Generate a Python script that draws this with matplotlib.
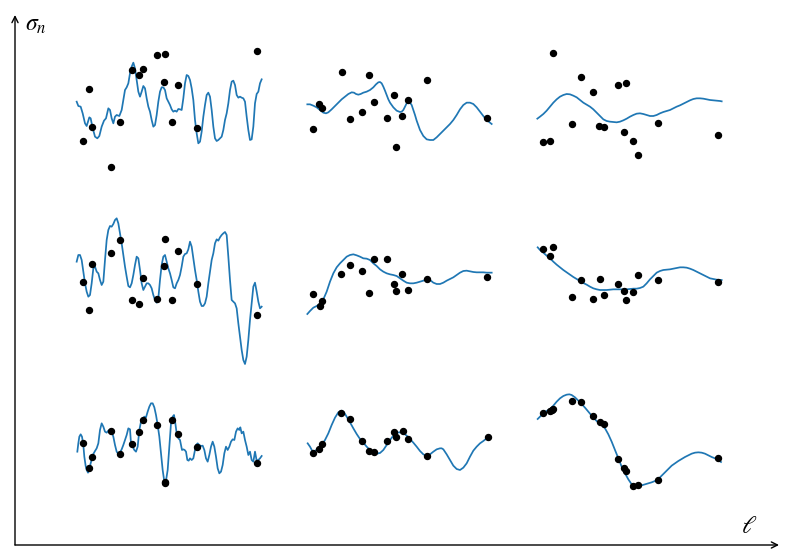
import numpy as np
import matplotlib.pyplot as plt

plt.rcParams['mathtext.fontset'] = 'stix'

# each panel: readings on the panel's own (pixel-like) scale, y grows downward
# line points as (x, y) pairs, observed points as (x, y) pairs
tl_line = [(50,215),(55,228),(62,230),(68,250),(75,280),(80,288),(88,262),(92,265),(97,290),(105,320),
           (112,325),(118,318),(125,290),(132,272),(138,265),(145,235),(150,240),(155,265),(160,280),(165,260),
           (170,255),(178,258),(185,240),(190,210),(195,180),(200,172),(205,160),(210,130),(215,110),(220,98),
           (225,115),(230,150),(235,185),(240,200),(245,185),(250,168),(255,175),(260,205),(265,230),(270,245),
           (275,270),(280,290),(285,285),(290,255),(295,215),(300,185),(305,172),(310,172),(315,180),(320,205),
           (325,215),(330,225),(335,238),(340,245),(345,242),(350,245),(355,237),(360,238),(365,240),(370,205),
           (375,160),(380,135),(385,138),(390,150),(395,175),(400,210),(405,270),(410,310),(415,340),(420,335),
           (425,305),(430,260),(435,225),(440,195),(445,188),(450,200),(455,240),(460,290),(465,325),(470,333),
           (475,330),(480,325),(485,320),(490,300),(495,270),(500,250),(505,220),(510,180),(515,155),(520,152),
           (525,165),(530,195),(535,203),(540,200),(545,203),(550,205),(555,215),(560,260),(565,300),(570,330),
           (575,328),(580,290),(585,220),(590,192),(595,185),(600,160),(605,148)]
tl_dots = [(68,333),(88,177),(97,292),(153,411),(181,276),(216,119),(236,134),(250,118),(292,74),(316,72),
           (312,155),(353,165),(337,276),(411,293),(592,63)]

tm_line = [(52,163),(60,163),(70,167),(80,172),(90,180),(100,188),(108,190),(115,187),(125,178),(135,168),
           (145,158),(155,148),(165,140),(175,132),(185,127),(192,128),(198,132),(205,134),(212,132),(220,128),
           (230,125),(240,120),(250,112),(258,103),(265,97),(270,96),(275,100),(280,110),(285,122),(290,135),
           (295,148),(300,158),(310,172),(320,182),(330,186),(335,185),(340,180),(345,170),(350,160),(355,155),
           (360,158),(365,165),(370,180),(375,195),(380,212),(390,240),(400,258),(410,268),(420,270),(430,270),
           (440,262),(450,252),(460,242),(470,232),(480,222),(490,210),(500,195),(510,178),(520,165),(530,158),
           (540,158),(550,162),(560,172),(570,185),(580,198),(590,210),(600,218),(605,222)]
tm_dots = [(68,237),(88,163),(97,174),(155,66),(181,208),(216,186),(238,75),(251,155),(292,205),(313,136),
           (317,291),(337,199),(353,151),(411,90),(592,205)]

tr_line = [(52,236),(60,230),(70,222),(80,212),(90,200),(100,188),(110,178),(120,170),(130,165),(140,162),
           (150,163),(160,167),(170,172),(180,180),(190,188),(200,194),(210,200),(220,208),(230,218),(240,228),
           (250,238),(260,243),(270,245),(280,246),(290,247),(300,245),(310,241),(320,236),(330,230),(340,225),
           (350,221),(360,220),(370,222),(380,225),(390,228),(400,228),(410,225),(420,220),(430,216),(440,213),
           (450,210),(460,205),(470,200),(480,196),(490,191),(500,186),(510,181),(520,177),(530,175),(540,175),
           (550,176),(560,178),(570,180),(580,181),(590,182),(600,183),(605,184)]
tr_dots = [(69,306),(90,302),(98,38),(155,253),(182,110),(218,157),(238,259),(251,260),(294,134),(313,275),
           (319,129),(339,303),(355,345),(413,249),(594,286)]

ml_line = [(50,185),(55,165),(60,165),(65,180),(70,215),(75,250),(80,275),(85,290),(90,285),(95,250),
           (100,205),(105,200),(110,215),(115,220),(120,240),(125,255),(130,245),(135,180),(140,120),(145,90),
           (150,78),(155,80),(160,72),(165,60),(170,55),(175,70),(180,100),(185,130),(190,165),(195,200),
           (200,230),(205,258),(210,262),(215,250),(220,225),(225,195),(230,170),(235,175),(240,210),(245,250),
           (250,270),(255,260),(260,250),(265,250),(270,255),(275,265),(280,285),(285,300),(290,308),(295,295),
           (300,240),(305,195),(310,170),(315,165),(320,185),(325,205),(330,220),(335,240),(340,262),(345,265),
           (350,250),(355,240),(360,225),(365,200),(370,170),(375,162),(380,160),(385,148),(390,125),(395,140),
           (400,175),(405,210),(410,240),(415,275),(420,305),(425,318),(430,318),(435,310),(440,290),(445,250),
           (450,215),(455,180),(460,160),(465,130),(470,118),(475,122),(480,112),(485,105),(490,100),(495,96),
           (500,105),(505,170),(510,240),(515,300),(520,305),(525,310),(530,325),(535,370),(540,410),(545,450),
           (550,480),(555,492),(560,470),(565,420),(570,360),(575,310),(580,260),(585,248),(590,275),(595,305),
           (600,325),(605,320)]
ml_dots = [(68,246),(88,331),(97,192),(153,159),(181,120),(216,300),(237,312),(250,233),(292,298),(316,117),
           (312,197),(353,154),(337,301),(411,252),(592,346)]

mm_line = [(52,252),(60,243),(70,233),(80,228),(90,222),(100,208),(110,185),(120,155),(130,130),(140,112),
           (150,100),(160,90),(170,80),(180,75),(190,73),(200,76),(210,80),(220,85),(230,86),(240,90),
           (250,100),(260,108),(270,118),(280,125),(290,130),(300,133),(310,135),(320,138),(330,145),(340,152),
           (350,158),(360,160),(370,160),(380,158),(390,155),(400,152),(410,148),(420,150),(430,158),(440,162),
           (450,162),(460,158),(470,152),(480,147),(490,142),(500,135),(510,128),(520,123),(530,122),(540,124),
           (550,126),(560,127),(570,127),(580,127),(590,128),(600,128),(605,128)]
mm_dots = [(68,191),(89,229),(97,213),(154,133),(181,106),(216,122),(237,189),(251,86),(292,87),(313,161),
           (318,183),(337,133),(353,179),(411,146),(592,140)]

mr_line = [(53,52),(60,60),(70,68),(80,77),(90,85),(100,95),(110,104),(120,112),(130,120),(140,127),
           (150,134),(160,141),(170,147),(180,153),(190,159),(200,164),(210,170),(220,175),(230,178),(240,180),
           (250,180),(260,180),(270,179),(280,178),(290,178),(300,178),(310,178),(320,178),(330,177),(340,176),
           (350,176),(360,174),(370,170),(380,160),(390,148),(400,138),(410,128),(420,123),(430,120),(440,119),
           (450,118),(460,116),(470,114),(480,112),(490,112),(500,113),(510,116),(520,120),(530,125),(540,130),
           (550,135),(560,140),(570,145),(580,147),(590,149),(600,150),(605,150)]
mr_dots = [(70,58),(98,50),(90,77),(155,200),(182,149),(218,208),(239,148),(252,195),(294,163),(313,183),
           (319,210),(339,185),(355,134),(413,151),(594,157)]

bl_line = [(52,185),(55,160),(58,140),(62,133),(66,140),(70,165),(73,200),(77,228),(80,240),(84,248),
           (88,238),(92,220),(96,205),(100,192),(105,183),(110,175),(115,160),(120,120),(125,100),(130,110),
           (135,125),(140,128),(145,122),(150,120),(155,125),(160,140),(165,165),(170,185),(175,192),(180,188),
           (185,178),(190,165),(195,150),(200,135),(205,115),(210,118),(213,160),(218,170),(223,180),(228,185),
           (233,170),(238,120),(243,95),(248,88),(253,80),(258,82),(263,65),(268,50),(273,40),(278,40),
           (283,52),(288,75),(293,105),(298,140),(303,190),(308,240),(313,275),(318,272),(323,240),(328,170),
           (333,100),(338,80),(342,75),(346,100),(350,130),(355,145),(360,150),(363,165),(366,180),(370,178),
           (374,180),(378,185),(382,210),(386,212),(390,205),(395,210),(400,205),(403,190),(408,165),(413,160),
           (418,165),(423,168),(428,167),(433,180),(438,205),(443,215),(448,195),(453,170),(458,155),(463,170),
           (468,200),(473,235),(478,250),(483,245),(488,225),(493,190),(498,170),(503,180),(508,170),(513,155),
           (518,148),(523,150),(528,125),(533,115),(538,120),(541,112),(545,130),(550,125),(555,150),(560,170),
           (565,195),(570,185),(575,210),(580,215),(585,185),(590,212),(595,210),(600,205),(605,198)]
bl_dots = [(68,160),(88,234),(97,200),(153,122),(181,191),(216,162),(237,126),(250,89),(292,104),(314,277),
           (316,279),(337,90),(353,133),(411,170),(592,219)]

bm_line = [(53,145),(60,155),(68,170),(75,168),(85,160),(95,150),(105,135),(115,115),(125,90),(135,68),
           (145,52),(155,47),(162,52),(170,65),(180,82),(190,100),(200,117),(210,132),(220,143),(230,155),
           (240,165),(250,172),(260,176),(270,174),(280,165),(290,150),(300,135),(310,122),(320,113),(330,112),
           (340,114),(350,122),(360,132),(370,143),(380,155),(390,168),(400,178),(410,183),(420,178),(430,170),
           (440,163),(450,160),(455,160),(460,163),(470,178),(480,195),(490,212),(500,222),(510,225),(520,218),
           (530,205),(540,185),(550,167),(560,155),(570,145),(580,138),(590,130),(598,123)]
bm_dots = [(68,173),(88,161),(97,147),(154,53),(181,73),(217,139),(238,167),(251,172),(292,137),(313,111),
           (318,125),(338,109),(354,131),(412,183),(593,126)]

br_line = [(53,102),(60,95),(70,85),(80,78),(90,72),(100,62),(110,50),(120,40),(130,33),(140,29),
           (148,28),(155,30),(165,37),(175,47),(185,57),(195,68),(205,80),(215,92),(225,103),(235,113),
           (245,120),(255,130),(265,148),(275,170),(285,195),(295,220),(305,245),(315,265),(325,283),(335,298),
           (345,303),(355,303),(365,301),(375,298),(385,295),(395,292),(405,288),(415,282),(425,272),(435,262),
           (445,252),(455,242),(465,235),(475,228),(485,222),(495,216),(505,211),(515,206),(525,203),(535,202),
           (545,203),(555,206),(565,211),(575,216),(585,220),(595,226),(603,231)]
br_dots = [(70,85),(90,78),(96,74),(99,71),(156,49),(183,51),(218,94),(239,111),(253,117),(293,223),
           (313,249),(318,259),(339,303),(355,300),(413,286),(594,218)]

panels = [
    (tl_line, tl_dots, (60, 30, 220, 150)),
    (tm_line, tm_dots, (290, 50, 220, 120)),
    (tr_line, tr_dots, (520, 40, 220, 130)),
    (ml_line, ml_dots, (60, 200, 220, 180)),
    (mm_line, mm_dots, (290, 230, 220, 100)),
    (mr_line, mr_dots, (520, 230, 220, 100)),
    (bl_line, bl_dots, (60, 390, 220, 110)),
    (bm_line, bm_dots, (290, 395, 220, 90)),
    (br_line, br_dots, (520, 385, 220, 110)),
]

W, H = 786, 553
fig = plt.figure(figsize=(W / 100, H / 100), dpi=100)

for line, dots, (px, py, pw, ph) in panels:
    ax = fig.add_axes([px / W, 1 - (py + ph) / H, pw / W, ph / H])
    lx, ly = np.array(line).T
    dx, dy = np.array(dots).T
    ax.plot(lx, ly, color='#1f77b4', lw=1.25)
    ax.plot(dx, dy, 'o', color='black', ms=4.3, zorder=3)
    ax.set_xlim(0, pw * 3)
    ax.set_ylim(ph * 3, 0)
    ax.axis('off')

# big axes arrows
arrow = dict(arrowstyle='->', lw=1.0, color='black', shrinkA=0, shrinkB=0,
             mutation_scale=11)
fig.add_artist(plt.matplotlib.patches.FancyArrowPatch(
    (15 / W, 1 - 545 / H), (15 / W, 1 - 15 / H), transform=fig.transFigure, **arrow))
fig.add_artist(plt.matplotlib.patches.FancyArrowPatch(
    (15 / W, 1 - 545 / H), (779 / W, 1 - 545 / H), transform=fig.transFigure, **arrow))

fig.text(25 / W, 1 - 24 / H, r'$\sigma_n$', fontsize=17, va='center', ha='left')
fig.text(749 / W, 1 - 526 / H, r'$\ell$', fontsize=18, va='center', ha='center')

fig.savefig('out.png', dpi=100)
